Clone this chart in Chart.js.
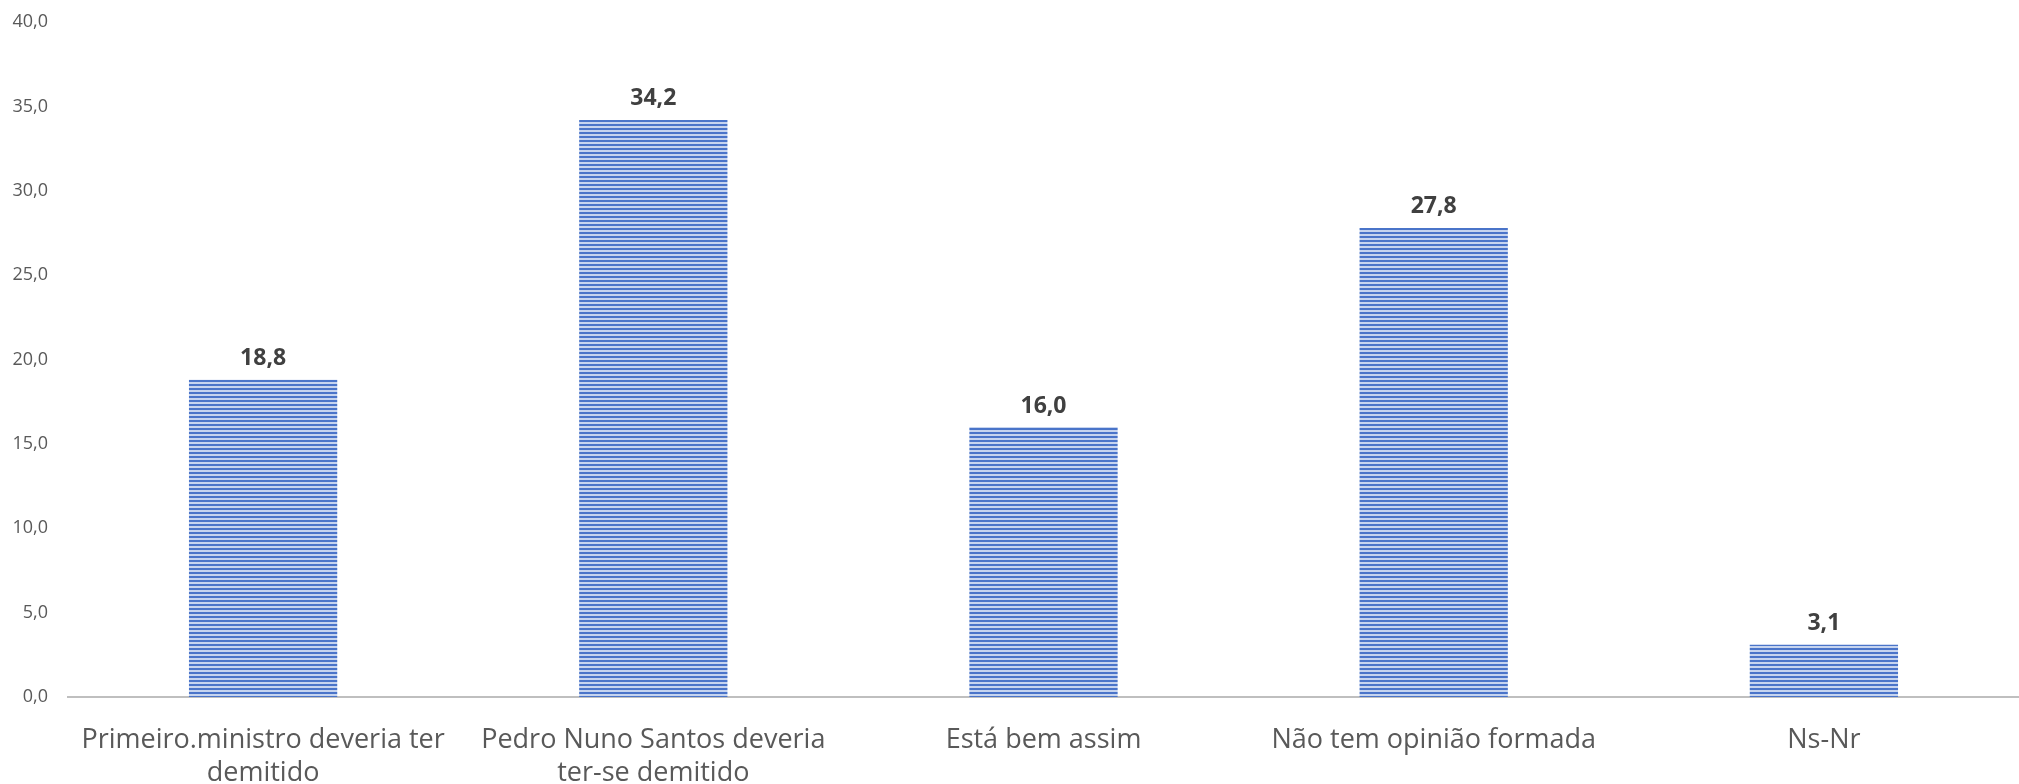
<!DOCTYPE html>
<html>
<head>
<meta charset="utf-8">
<script src="https://cdn.jsdelivr.net/npm/chart.js@4"></script>
<style>
  html, body { margin: 0; padding: 0; background: #fff; }
  #wrap { width: 2019px; height: 784px; }
</style>
</head>
<body>
<div id="wrap"><canvas id="chart" width="2019" height="784"></canvas></div>
<script>
const categories = [
    ['Primeiro.ministro deveria ter', 'demitido'],
    ['Pedro Nuno Santos deveria', 'ter-se demitido'],
    'Está bem assim',
    'Não tem opinião formada',
    'Ns-Nr'
];
const values = [18.8, 34.2, 16.0, 27.8, 3.1];
const yTicks = [0, 5, 10, 15, 20, 25, 30, 35, 40];

const fmt = v => v.toFixed(1).replace('.', ',');

// striped fill like the Excel pattern
const pc = document.createElement('canvas');
pc.width = 4; pc.height = 4;
const pctx = pc.getContext('2d');
pctx.fillStyle = '#c6d4ef';
pctx.fillRect(0, 0, 4, 4);
pctx.fillStyle = '#4a74c9';
pctx.fillRect(0, 0, 4, 2);
const ctx = document.getElementById('chart').getContext('2d');
const stripes = ctx.createPattern(pc, 'repeat');

const valueLabels = {
    id: 'valueLabels',
    afterDatasetsDraw(chart) {
        const c = chart.ctx;
        const meta = chart.getDatasetMeta(0);
        c.save();
        c.font = 'bold 23px "Open Sans", sans-serif';
        c.fillStyle = '#404040';
        c.textAlign = 'center';
        c.textBaseline = 'middle';
        meta.data.forEach((bar, i) => {
            c.fillText(fmt(values[i]), bar.x, bar.y - 21);
        });
        c.restore();
    }
};

new Chart(ctx, {
    type: 'bar',
    data: {
        labels: categories,
        datasets: [{
            data: values,
            backgroundColor: stripes,
            borderWidth: 0,
            categoryPercentage: 0.38,
            barPercentage: 1
        }]
    },
    options: {
        responsive: false,
        animation: false,
        layout: { padding: { top: 22, right: 0, left: 0, bottom: 0 } },
        plugins: {
            legend: { display: false },
            tooltip: { enabled: false }
        },
        scales: {
            y: {
                min: 0,
                max: 40,
                afterBuildTicks: s => { s.ticks = yTicks.map(v => ({ value: v })); },
                afterFit: s => { s.width = 68; s.paddingTop = 0; s.paddingBottom = 0; },
                grid: { display: false, drawTicks: false },
                border: { display: false },
                ticks: {
                    padding: 20,
                    color: '#595959',
                    font: { family: 'Open Sans', size: 18, lineHeight: 1 },
                    callback: v => fmt(v)
                }
            },
            x: {
                afterFit: s => { s.height = 87; },
                grid: { display: false, drawTicks: false },
                border: { display: true, color: '#bfbfbf', width: 2 },
                ticks: {
                    padding: 26,
                    maxRotation: 0,
                    autoSkip: false,
                    color: '#595959',
                    font: { family: 'Open Sans', size: 27, lineHeight: 1.25 }
                }
            }
        }
    },
    plugins: [valueLabels]
});
</script>
</body>
</html>
